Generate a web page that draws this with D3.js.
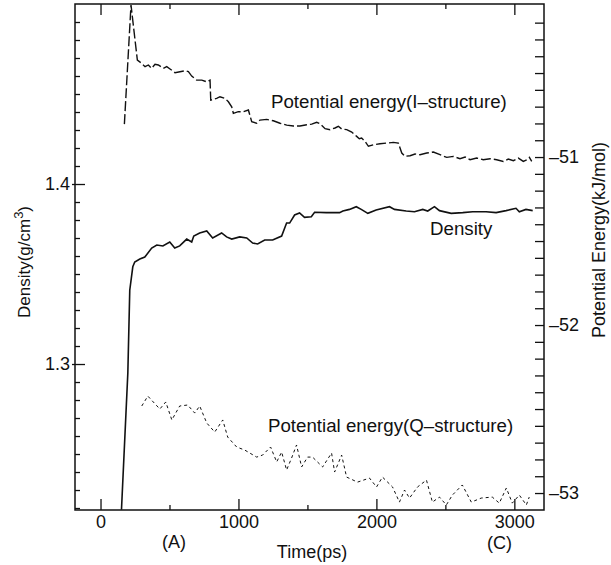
<!DOCTYPE html>
<html>
<head>
<meta charset="utf-8">
<script src="https://cdn.jsdelivr.net/npm/d3@7"></script>
<style>
  body { margin: 0; background: #fff; }
  text { font-family: "Liberation Sans", Arial, Helvetica, sans-serif; fill: #111; }
</style>
</head>
<body>
<div id="grafiek"></div>
<script>
// Tijd-as (ps)
const xMajor = [0, 1000, 2000, 3000];
const xMinor = [500, 1500, 2500];
const densityMajor = [1.3, 1.4];
const energyMajor = [-53, -52, -51];

// Dichtheid (g/cm3)
const densTime = [152, 198, 212, 234, 248, 285, 321, 371, 408, 452, 502, 538, 574, 625, 661, 676, 719, 770, 813, 878, 914, 951, 1009, 1060, 1103, 1139, 1190, 1248, 1313, 1349, 1371, 1407, 1443, 1479, 1528, 1552, 1636, 1733, 1757, 1805, 1854, 1890, 1938, 1998, 2095, 2131, 2216, 2276, 2336, 2372, 2421, 2457, 2542, 2626, 2698, 2795, 2868, 2940, 3012, 3036, 3084, 3133];
const densValue = [1.219, 1.295, 1.341, 1.354, 1.3567, 1.3583, 1.3594, 1.3644, 1.3661, 1.3656, 1.3678, 1.3644, 1.3656, 1.3694, 1.3678, 1.3711, 1.3728, 1.3739, 1.370, 1.3728, 1.3706, 1.3694, 1.3706, 1.370, 1.3672, 1.3667, 1.3689, 1.3689, 1.3711, 1.3783, 1.3783, 1.3828, 1.3839, 1.3815, 1.3818, 1.3843, 1.3841, 1.3841, 1.385, 1.3859, 1.3874, 1.3859, 1.3837, 1.3856, 1.3874, 1.3859, 1.385, 1.3846, 1.3859, 1.385, 1.3874, 1.3852, 1.3837, 1.3841, 1.3846, 1.3846, 1.3841, 1.3852, 1.3865, 1.3846, 1.3859, 1.3852];

// Potentiele energie, I-structuur (kJ/mol)
const iTime = [173, 221, 267, 298, 323, 347, 371, 395, 419, 455, 480, 504, 540, 576, 613, 637, 661, 697, 734, 770, 794, 799, 842, 866, 903, 927, 951, 963, 999, 1035, 1072, 1096, 1132, 1156, 1205, 1253, 1301, 1350, 1398, 1446, 1495, 1531, 1567, 1591, 1628, 1664, 1700, 1724, 1748, 1785, 1821, 1857, 1876, 1893, 1918, 1942, 1978, 2026, 2075, 2123, 2159, 2184, 2207, 2244, 2280, 2316, 2365, 2413, 2461, 2510, 2558, 2606, 2643, 2679, 2727, 2775, 2824, 2872, 2920, 2956, 2993, 3029, 3065, 3090, 3109, 3126];
const iEnergy = [-50.804, -50.095, -50.423, -50.442, -50.462, -50.452, -50.472, -50.448, -50.452, -50.472, -50.462, -50.476, -50.498, -50.492, -50.486, -50.492, -50.518, -50.542, -50.542, -50.552, -50.542, -50.661, -50.651, -50.641, -50.651, -50.671, -50.701, -50.740, -50.730, -50.730, -50.720, -50.790, -50.799, -50.780, -50.776, -50.784, -50.799, -50.810, -50.815, -50.815, -50.808, -50.804, -50.793, -50.802, -50.831, -50.837, -50.827, -50.817, -50.833, -50.837, -50.851, -50.877, -50.891, -50.887, -50.907, -50.936, -50.927, -50.921, -50.917, -50.913, -50.917, -50.976, -50.996, -50.992, -50.982, -50.986, -50.976, -50.970, -50.986, -51.002, -50.996, -51.010, -51.000, -51.016, -51.006, -51.016, -51.010, -51.016, -51.026, -51.012, -51.022, -51.006, -51.026, -51.016, -51.002, -51.026];

// Potentiele energie, Q-structuur (kJ/mol)
const qTime = [299, 343, 430, 473, 517, 574, 632, 683, 719, 770, 828, 886, 922, 987, 1045, 1132, 1175, 1233, 1277, 1313, 1349, 1385, 1421, 1458, 1501, 1537, 1610, 1675, 1697, 1748, 1784, 1863, 1950, 2001, 2044, 2117, 2167, 2204, 2240, 2298, 2363, 2406, 2457, 2507, 2551, 2623, 2688, 2760, 2840, 2891, 2942, 2985, 3036, 3087, 3108];
const qEnergy = [-52.482, -52.423, -52.5, -52.458, -52.565, -52.482, -52.476, -52.524, -52.482, -52.583, -52.637, -52.565, -52.667, -52.726, -52.744, -52.786, -52.774, -52.726, -52.815, -52.756, -52.863, -52.792, -52.714, -52.845, -52.786, -52.786, -52.845, -52.762, -52.875, -52.774, -52.905, -52.935, -52.911, -52.964, -52.905, -52.964, -53.054, -52.982, -53.03, -52.964, -52.923, -53.054, -53.024, -53.071, -53.012, -52.952, -53.054, -53.03, -53.024, -53.06, -52.97, -53.06, -53.012, -53.071, -53.024];

const W = 611, H = 565;
const mLeft = 75, mRight = 544, mTop = 4, mBottom = 510;

const svg = d3.select('#grafiek')
  .append('svg')
  .attr('width', W)
  .attr('height', H);

const x = d3.scaleLinear().domain([-185, 3215]).range([mLeft, mRight]);
const yL = d3.scaleLinear().domain([1.2189, 1.5]).range([mBottom, mTop]);
const yR = d3.scaleLinear().domain([-53.101, -50.089]).range([mBottom, mTop]);

const fontSize = 18;

// clip so the lines stay in the frame
svg.append('clipPath').attr('id', 'clip')
  .append('rect').attr('x', mLeft).attr('y', mTop).attr('width', mRight - mLeft).attr('height', mBottom - mTop);

// Assen
function strip(g) {
  g.select('.domain').remove();
  g.selectAll('line').attr('stroke', '#111').attr('stroke-width', 1.3);
  g.selectAll('text').attr('font-size', fontSize).style('font-family', '"Liberation Sans", Arial, sans-serif').attr('fill', '#111');
}

// onder
svg.append('g').attr('transform', `translate(0, ${mBottom})`)
  .call(d3.axisBottom(x).tickValues(xMajor).tickSize(-11).tickPadding(5).tickFormat(d3.format('d')))
  .call(strip);
svg.append('g').attr('transform', `translate(0, ${mBottom})`)
  .call(d3.axisBottom(x).tickValues(xMinor).tickSize(-5).tickFormat(''))
  .call(strip);
// boven
svg.append('g').attr('transform', `translate(0, ${mTop})`)
  .call(d3.axisTop(x).tickValues(xMajor).tickSize(-11).tickFormat(''))
  .call(strip);
svg.append('g').attr('transform', `translate(0, ${mTop})`)
  .call(d3.axisTop(x).tickValues(xMinor).tickSize(-5).tickFormat(''))
  .call(strip);

// links (dichtheid)
const densMinor = d3.range(122, 150).map(v => v / 100).filter(v => !densityMajor.some(m => Math.abs(m - v) < 1e-6));
svg.append('g').attr('transform', `translate(${mLeft}, 0)`)
  .call(d3.axisLeft(yL).tickValues(densityMajor).tickSize(-10).tickPadding(5).tickFormat(d3.format('.1f')))
  .call(strip);
svg.append('g').attr('transform', `translate(${mLeft}, 0)`)
  .call(d3.axisLeft(yL).tickValues(densityMajor).tickSize(3).tickFormat(''))
  .call(strip);
svg.append('g').attr('transform', `translate(${mLeft}, 0)`)
  .call(d3.axisLeft(yL).tickValues(densMinor).tickSize(-5).tickFormat(''))
  .call(strip);

// rechts (energie)
const energyMinor = d3.range(-530, -500).map(v => v / 10).filter(v => !energyMajor.some(m => Math.abs(m - v) < 1e-6) && v > -53.09 && v < -50.11);
svg.append('g').attr('transform', `translate(${mRight}, 0)`)
  .call(d3.axisRight(yR).tickValues(energyMajor).tickSize(-9).tickPadding(5).tickFormat(d => '\u2013' + Math.abs(d)))
  .call(strip);
svg.append('g').attr('transform', `translate(${mRight}, 0)`)
  .call(d3.axisRight(yR).tickValues(energyMinor).tickSize(-9).tickFormat(''))
  .call(strip);

// kader
svg.append('rect')
  .attr('x', mLeft).attr('y', mTop)
  .attr('width', mRight - mLeft).attr('height', mBottom - mTop)
  .attr('fill', 'none').attr('stroke', '#111').attr('stroke-width', 1.5);

// Lijnen
const plot = svg.append('g').attr('clip-path', 'url(#clip)');

const densLine = d3.line().x((d, i) => x(densTime[i])).y(d => yL(d));
plot.append('path')
  .datum(densValue)
  .attr('d', densLine)
  .attr('fill', 'none').attr('stroke', '#111').attr('stroke-width', 1.6);

const iLine = d3.line().x((d, i) => x(iTime[i])).y(d => yR(d));
plot.append('path')
  .datum(iEnergy)
  .attr('d', iLine)
  .attr('fill', 'none').attr('stroke', '#111').attr('stroke-width', 1.4)
  .attr('stroke-dasharray', '10,3');

const qLine = d3.line().x((d, i) => x(qTime[i])).y(d => yR(d));
plot.append('path')
  .datum(qEnergy)
  .attr('d', qLine)
  .attr('fill', 'none').attr('stroke', '#111').attr('stroke-width', 1)
  .attr('stroke-dasharray', '3,3');

// Teksten
function label(txt, tx, ty, anchor, size) {
  return svg.append('text')
    .attr('x', tx).attr('y', ty)
    .attr('font-size', size || fontSize)
    .attr('text-anchor', anchor || 'start')
    .text(txt);
}
label('Potential energy(I\u2013structure)', 271, 108, 'start', 18.7);
label('Density', 430, 235, 'start', 18.7);
label('Potential energy(Q\u2013structure)', 268, 432, 'start', 18.7);
label('(A)', 174, 548, 'middle');
label('(C)', 499.5, 549, 'middle');
label('Time(ps)', 312, 558, 'middle');

const dl = svg.append('text')
  .attr('transform', 'translate(30, 262) rotate(-90)')
  .attr('text-anchor', 'middle')
  .attr('font-size', 17);
dl.append('tspan').text('Density(g/cm');
dl.append('tspan').attr('font-size', 13).attr('dy', -7).text('3');
dl.append('tspan').attr('dy', 7).text(')');

svg.append('text')
  .attr('transform', 'translate(605, 240) rotate(-90)')
  .attr('text-anchor', 'middle')
  .attr('font-size', fontSize)
  .text('Potential Energy(kJ/mol)');
</script>
</body>
</html>
